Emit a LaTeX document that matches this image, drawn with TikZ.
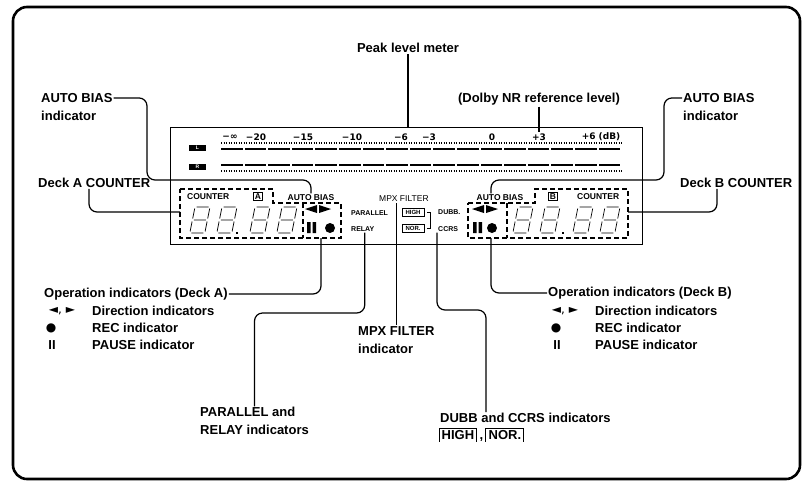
\documentclass[tikz,border=0pt]{standalone}
\usepackage{fontspec}
\setmainfont{Liberation Sans}
\newfontfamily\symfont{DejaVu Sans}
\usetikzlibrary{positioning}
% one 7-segment digit, top left corner at #1
\newcommand{\lcddigit}[1]{%
  \begin{scope}[shift={(#1)},xslant=0.2,line width=0.7pt]
    \draw (1.5,0) -- (13.5,0) (0,1.5) -- (0,11.5) (15,1.5) -- (15,11.5)
      (1.5,13) -- (13.5,13) (0,14.5) -- (0,24.5) (15,14.5) -- (15,24.5)
      (1.5,26) -- (13.5,26);
  \end{scope}}

\begin{document}
\begin{tikzpicture}[x=1pt,y=-1pt,
  every node/.style={font=\bfseries\fontsize{13}{18}\selectfont,inner sep=1pt},
  link/.style={line width=1.2pt,rounded corners=8pt},
  pnl/.style={font=\bfseries\fontsize{8.5}{9}\selectfont},
  pnlsm/.style={font=\bfseries\fontsize{7}{8}\selectfont},
  scl/.style={font=\symfont\bfseries\fontsize{9}{9}\selectfont},
  chtag/.style={fill=black,text=white,font=\bfseries\fontsize{5}{5}\selectfont,minimum width=17pt,minimum height=6pt,inner sep=0pt},
  dtag/.style={pnl,draw,line width=0.6pt,inner sep=1.2pt},
  modebox/.style={draw,line width=0.6pt,font=\bfseries\fontsize{6}{6}\selectfont,minimum width=22pt,minimum height=8pt,inner sep=0pt},
  lcdbox/.style={line width=1.3pt,dash pattern=on 5pt off 3pt},
  sym/.style={font=\symfont\fontsize{12}{12}\selectfont}]
  \useasboundingbox (0,0) rectangle (808,483);
  \draw[line width=2.6pt,rounded corners=14pt] (13,7) rectangle (800,479);

  % display panel
  \node[draw,line width=1pt,minimum width=472pt,minimum height=117pt,inner sep=0pt] (panel) at (406,185.5) {};
  \foreach \t/\x [count=\k] in {−∞/230,−20/256,−15/303,−10/352,−6/401,−3/429,0/492,+3/539,{+6 (dB)}/601}
    \node[scl] (s\k) at (\x,137) {\t};
  \node[chtag] (lch) at (197.5,147.5) {L};
  \node[chtag] (rch) at (197.5,167) {R};
  \foreach \i in {0,...,16} {
    \fill ({221+23.6*\i},147.5) rectangle +(21.6,2.8);
    \fill ({221+23.6*\i},163.5) rectangle +(21.6,2.8);
  }
  \draw[line width=1.6pt,dash pattern=on 1.2pt off 1.3pt] (221,143) -- (622,143) (221,171) -- (622,171);

  % deck A
  \draw[lcdbox] (180,189) -- (273,189) -- (273,203) -- (341,203) -- (341,238) -- (180,238) -- cycle (303,203) -- (303,238);
  \node[pnl,anchor=west] (cnta) at (186,196.5) {COUNTER};
  \node[dtag] (taga) at (258,196.5) {A};
  \node[pnl] (abia) at (311,197.5) {AUTO BIAS};
  \foreach \x in {195,222,255,282} \lcddigit{\x,207};
  \fill (236,232) rectangle +(2,2);
  \fill (305,209) -- (317,205) -- (317,213) -- cycle (331,209) -- (319,205) -- (319,213) -- cycle;
  \fill (307,222) rectangle (310.5,233) (312.5,222) rectangle (316,233);
  \fill (330,228) circle (5pt);

  % deck B
  \draw[lcdbox] (468,203) -- (535,203) -- (535,189) -- (628,189) -- (628,238) -- (468,238) -- cycle (507,203) -- (507,238);
  \node[pnl] (abib) at (500,197.5) {AUTO BIAS};
  \node[dtag] (tagb) at (553,196.5) {B};
  \node[pnl,anchor=west] (cntb) at (576,196.5) {COUNTER};
  \foreach \x in {518,545,578,605} \lcddigit{\x,207};
  \fill (562,232) rectangle +(2,2);
  \fill (472,209) -- (484,205) -- (484,213) -- cycle (498,209) -- (486,205) -- (486,213) -- cycle;
  \fill (473,222) rectangle (476.5,233) (478.5,222) rectangle (482,233);
  \fill (492,228) circle (5pt);

  % middle indicators
  \node[pnlsm,anchor=west] (para) at (350,213) {PARALLEL};
  \node[pnlsm,anchor=west] (relay) at (350,229) {RELAY};
  \node[anchor=west,font=\fontsize{8.5}{9}\selectfont] (mpxf) at (378,199) {MPX FILTER};
  \node[modebox] (high) at (413,212) {HIGH};
  \node[modebox] (nor) at (413,228) {NOR.};
  \draw[line width=0.6pt] ([xshift=3pt]high.east) -- ++(3,0) |- ([xshift=3pt]nor.east);
  \node[pnlsm,anchor=west] (dubp) at (437,212) {DUBB.};
  \node[pnlsm,anchor=west] (ccrs) at (437,229) {CCRS};

  % labels
  \node[anchor=north] (peak) at (408,42.3) {Peak level meter};
  \node[anchor=north] (dolby) at (539,92) {(Dolby NR reference level)};
  \node[anchor=north west,align=left] (abl) at (40,92.3) {AUTO BIAS\\indicator};
  \node[anchor=north west,align=left] (abr) at (682,92.3) {AUTO BIAS\\indicator};
  \node[anchor=west] (decka) at (37,183) {Deck A COUNTER};
  \node[anchor=west] (deckb) at (679,183) {Deck B COUNTER};
  \node[anchor=west] (opa) at (43,294) {Operation indicators (Deck A)};
  \node[sym] (dira) at (62,311) {◄, ►};
  \node[anchor=west] (dirat) at (91,311) {Direction indicators};
  \node[sym] (reca) at (51,328) {●};
  \node[anchor=west] (recat) at (91,328) {REC indicator};
  \node (paua) at (52,345) {II};
  \node[anchor=west] (pauat) at (91,345) {PAUSE indicator};
  \node[anchor=west] (opb) at (547,293) {Operation indicators (Deck B)};
  \node[sym] (dirb) at (565,311) {◄, ►};
  \node[anchor=west] (dirbt) at (594,311) {Direction indicators};
  \node[sym] (recb) at (556,328) {●};
  \node[anchor=west] (recbt) at (594,328) {REC indicator};
  \node (paub) at (557,345) {II};
  \node[anchor=west] (paubt) at (594,345) {PAUSE indicator};
  \node[anchor=north west,align=left] (parl) at (199,406.3) {PARALLEL and\\RELAY indicators};
  \node[anchor=north west,align=left] (mpxl) at (357,325.3) {MPX FILTER\\indicator};
  \node[anchor=west] (dubl) at (439,418) {DUBB and CCRS indicators};
  \node[anchor=west,inner xsep=2.5pt,inner ysep=2pt] (highl) at (439,435) {HIGH};
  \node[anchor=base west] (comma) at ([xshift=1.5pt]highl.base east) {,};
  \node[anchor=base west,inner xsep=2.5pt,inner ysep=2pt] (norl) at ([xshift=1.5pt]comma.base east) {NOR.};
  \draw[line width=1pt] (highl.south west) -- (highl.north west) -- (highl.north east) -- (highl.south east)
    (norl.south west) -- (norl.north west) -- (norl.north east) -- (norl.south east);

  % connectors
  \coordinate (bendl) at (147,180);
  \coordinate (bendr) at (664,180);
  \coordinate (boxaw) at (180,212);
  \coordinate (boxbe) at (628,212);
  \coordinate (opat) at (321,238);
  \coordinate (opbt) at (491,238);
  \coordinate (parb) at (300,313);
  \coordinate (dubb) at (460,310);
  \draw[line width=1.2pt] (peak.south) -- (peak.south |- panel.north);
  \draw[line width=1.2pt] (dolby.south) -- (s8.north);
  \draw[link] ([yshift=-5.65pt]abl.north east) -| (bendl) -| (abia.north);
  \draw[link] ([yshift=-5.65pt]abr.north west) -| (bendr) -| ([xshift=-9pt]abib.north);
  \draw[link] ([xshift=52pt]decka.south west) |- (boxaw);
  \draw[link] ([xshift=38pt]deckb.south west) |- (boxbe);
  \draw[link] (opa.east) -| (opat);
  \draw[link] (opb.west) -| (opbt);
  \draw[link] ([xshift=2pt]relay.south) |- (parb) -| (parl.north);
  \draw[line width=1.2pt] (mpxl.north |- mpxf.south) -- (mpxl.north);
  \draw[link] (ccrs.south west) |- (dubb) -| ([xshift=47pt]dubl.north west);
\end{tikzpicture}
\end{document}
